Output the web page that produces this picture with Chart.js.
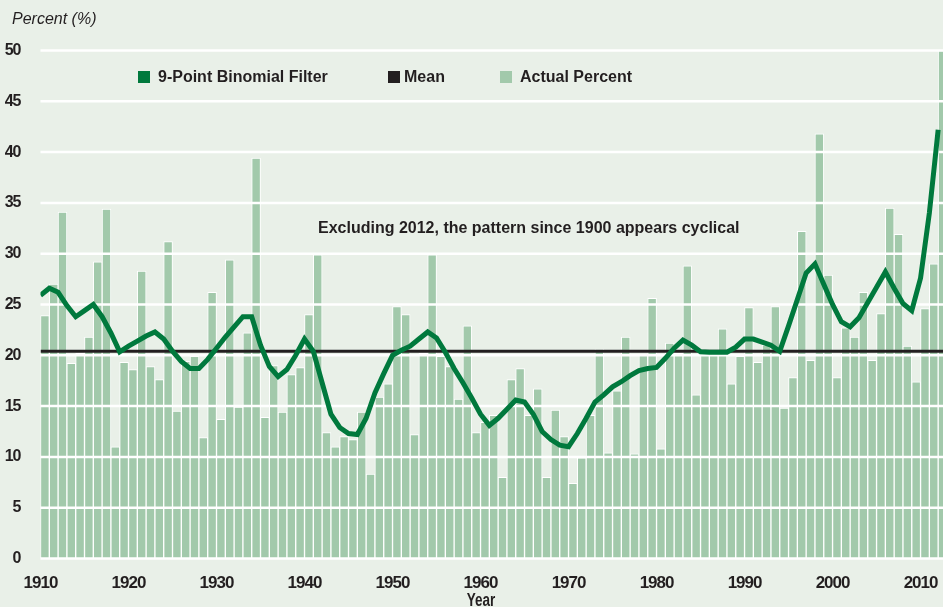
<!DOCTYPE html>
<html>
<head>
<meta charset="utf-8">
<script src="https://cdn.jsdelivr.net/npm/chart.js@4.4.1/dist/chart.umd.min.js"></script>
<style>
  html, body { margin: 0; padding: 0; background: #e9f0e8; overflow: hidden; }
  #wrap { position: relative; width: 943px; height: 607px; }
  #chart { position: absolute; left: 0; top: 0; }
  .txt {
    position: absolute;
    white-space: nowrap;
    color: #231f20;
    font-family: "Liberation Sans", Arial, sans-serif;
    font-size: 16px;
    line-height: 16px;
  }
  .bold { font-weight: bold; }
  .swatch { position: absolute; width: 12px; height: 12px; }
  #unit { left: 12px; top: 10.5px; font-style: italic; }
  #note { left: 318px; top: 220px; font-weight: bold; }
  #xtitle {
    left: 481px; top: 591px; transform: translateX(-50%) scaleX(0.75);
    font-size: 18px; line-height: 18px; font-weight: bold;
  }
</style>
</head>
<body>
<div id="wrap">
  <canvas id="chart" width="943" height="607"></canvas>
  <div class="txt" id="unit">Percent (%)</div>
  <div class="swatch" style="left:138px; top:71px; background:#00793d"></div>
  <div class="txt bold" style="left:158px; top:69px">9-Point Binomial Filter</div>
  <div class="swatch" style="left:388px; top:71px; background:#231f20"></div>
  <div class="txt bold" style="left:404px; top:69px">Mean</div>
  <div class="swatch" style="left:500px; top:71px; background:#a2c9ab"></div>
  <div class="txt bold" style="left:520px; top:69px">Actual Percent</div>
  <div class="txt" id="note">Excluding 2012, the pattern since 1900 appears cyclical</div>
  <div class="txt" id="xtitle">Year</div>
</div>
<script>
const years = [
  1910, 1911, 1912, 1913, 1914, 1915, 1916, 1917, 1918, 1919,
  1920, 1921, 1922, 1923, 1924, 1925, 1926, 1927, 1928, 1929,
  1930, 1931, 1932, 1933, 1934, 1935, 1936, 1937, 1938, 1939,
  1940, 1941, 1942, 1943, 1944, 1945, 1946, 1947, 1948, 1949,
  1950, 1951, 1952, 1953, 1954, 1955, 1956, 1957, 1958, 1959,
  1960, 1961, 1962, 1963, 1964, 1965, 1966, 1967, 1968, 1969,
  1970, 1971, 1972, 1973, 1974, 1975, 1976, 1977, 1978, 1979,
  1980, 1981, 1982, 1983, 1984, 1985, 1986, 1987, 1988, 1989,
  1990, 1991, 1992, 1993, 1994, 1995, 1996, 1997, 1998, 1999,
  2000, 2001, 2002, 2003, 2004, 2005, 2006, 2007, 2008, 2009,
  2010, 2011, 2012,
];

// yearly percent (bars)
const actualPercent = [
  23.9, 27.0, 34.1, 19.2, 20.2, 21.8, 29.2, 34.4, 11.0, 19.3,
  18.6, 28.3, 18.9, 17.6, 31.2, 14.5, 19.4, 19.9, 11.9, 26.2,
  13.7, 29.4, 14.9, 22.2, 39.4, 13.9, 19.0, 14.4, 18.1, 18.8,
  24.0, 29.9, 12.4, 11.0, 12.0, 11.7, 14.4, 8.3, 15.9, 17.2,
  24.8, 24.0, 12.2, 20.2, 29.9, 19.9, 18.9, 15.7, 22.9, 12.4,
  13.4, 14.1, 8.0, 17.6, 18.7, 14.1, 16.7, 8.0, 14.6, 12.0,
  7.4, 9.9, 14.1, 20.6, 10.4, 16.5, 21.8, 10.3, 20.0, 25.6,
  10.8, 21.2, 20.2, 28.8, 16.1, 20.2, 20.0, 22.6, 17.2, 19.9,
  24.7, 19.3, 21.0, 24.8, 14.8, 17.8, 32.2, 19.5, 41.8, 27.9,
  17.8, 22.7, 21.8, 26.2, 19.5, 24.1, 34.5, 31.9, 20.9, 17.4,
  24.6, 29.0, 50.0,
];

// 9-point binomial filter (line)
const binomialFilter = [
  25.9, 26.6, 26.2, 24.9, 23.8, 24.4, 25.0, 23.8, 22.2, 20.35,
  20.9, 21.4, 21.9, 22.3, 21.6, 20.4, 19.4, 18.7, 18.7, 19.6,
  20.7, 21.8, 22.8, 23.8, 23.8, 21.0, 18.9, 17.9, 18.6, 20.0,
  21.6, 20.4, 17.3, 14.2, 12.9, 12.3, 12.2, 13.8, 16.3, 18.2,
  20.0, 20.5, 20.9, 21.6, 22.3, 21.7, 20.3, 18.7, 17.3, 15.8,
  14.2, 13.1, 13.8, 14.7, 15.6, 15.4, 14.2, 12.5, 11.7, 11.15,
  11.0, 12.3, 13.8, 15.4, 16.1, 16.9, 17.4, 18.0, 18.5, 18.7,
  18.8, 19.7, 20.7, 21.5, 21.0, 20.35, 20.3, 20.3, 20.3, 20.8,
  21.6, 21.6, 21.3, 21.0, 20.4, 22.9, 25.5, 28.1, 29.0, 27.0,
  25.0, 23.3, 22.8, 23.7, 25.2, 26.7, 28.2, 26.6, 25.1, 24.4,
  27.6, 34.0, 42.2,
];

const meanPercent = 20.4;

const xTickYears = [1910, 1920, 1930, 1940, 1950, 1960, 1970, 1980, 1990, 2000, 2010];
const yTickValues = [0, 5, 10, 15, 20, 25, 30, 35, 40, 45, 50];

const X_MIN = 1910;
const X_MAX = 2012.55;

const GREEN = "#00793d";
const DARK = "#231f20";
const BAR_FILL = "#a2c9ab";
const TICK_FONT = "'Liberation Sans', Arial, sans-serif";

// white gridlines sit on top of the bars but under the two lines
const gridOverBars = {
  id: "gridOverBars",
  beforeDraw(chart) {
    // squeeze the bold tick digits a little, like the condensed face of the original
    chart.ctx.letterSpacing = "-1px";
  },
  afterDatasetDraw(chart, args) {
    if (args.meta.type !== "bar") return;
    const { ctx, chartArea } = chart;
    const yScale = chart.scales.y;
    ctx.save();
    ctx.strokeStyle = "#ffffff";
    ctx.lineWidth = 2.5;
    for (const tick of yScale.ticks) {
      const y = yScale.getPixelForValue(tick.value);
      ctx.beginPath();
      ctx.moveTo(chartArea.left, y);
      ctx.lineTo(chartArea.right, y);
      ctx.stroke();
    }
    ctx.restore();
  },
};

const ctx = document.getElementById("chart").getContext("2d");

new Chart(ctx, {
  type: "bar",
  data: {
    datasets: [
      {
        type: "line",
        label: "9-Point Binomial Filter",
        data: years.map((year, i) => ({ x: year, y: binomialFilter[i] })),
        borderColor: GREEN,
        borderWidth: 5,
        pointRadius: 0,
        tension: 0,
        order: 0,
      },
      {
        type: "line",
        label: "Mean",
        data: [
          { x: X_MIN, y: meanPercent },
          { x: X_MAX, y: meanPercent },
        ],
        borderColor: DARK,
        borderWidth: 3,
        pointRadius: 0,
        order: 1,
      },
      {
        type: "bar",
        label: "Actual Percent",
        // each bar covers its whole year, so it is centred half a year right
        data: years.map((year, i) => ({ x: year + 0.5, y: actualPercent[i] })),
        backgroundColor: BAR_FILL,
        borderColor: "#ffffff",
        borderWidth: 1,
        barPercentage: 1,
        categoryPercentage: 1,
        order: 2,
      },
    ],
  },
  options: {
    responsive: false,
    animation: false,
    layout: { padding: { top: 50.5, left: 0, right: 0, bottom: 0 } },
    plugins: {
      legend: { display: false },
      tooltip: { enabled: false },
    },
    scales: {
      x: {
        type: "linear",
        min: X_MIN,
        max: X_MAX,
        offset: false,
        grid: { display: false },
        border: { display: false },
        afterBuildTicks: (scale) => {
          scale.ticks = xTickYears.map((value) => ({ value }));
        },
        afterFit: (scale) => {
          scale.height = 48.5;
          scale.paddingLeft = 0;
          scale.paddingRight = 0;
        },
        ticks: {
          autoSkip: false,
          maxRotation: 0,
          padding: 7,
          color: DARK,
          font: { family: TICK_FONT, size: 17, weight: "bold" },
          callback: (value) => String(value),
        },
      },
      y: {
        min: 0,
        max: 50,
        grid: { display: false },
        border: { display: false },
        afterBuildTicks: (scale) => {
          scale.ticks = yTickValues.map((value) => ({ value }));
        },
        afterFit: (scale) => {
          scale.width = 40.5;
          scale.paddingTop = 0;
          scale.paddingBottom = 0;
        },
        ticks: {
          padding: 12,
          color: DARK,
          font: { family: TICK_FONT, size: 16, weight: "bold" },
        },
      },
    },
  },
  plugins: [gridOverBars],
});
</script>
</body>
</html>
